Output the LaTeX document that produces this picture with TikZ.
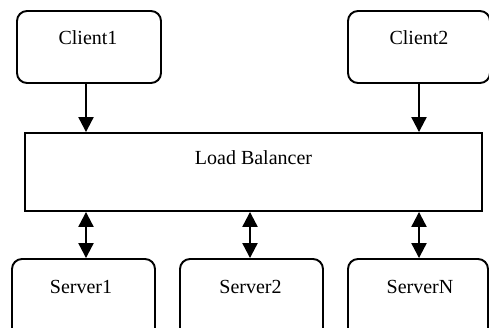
\documentclass[tikz,border=0pt]{standalone}
\usepackage{fontspec}
\setmainfont{Liberation Serif}
\usetikzlibrary{arrows.meta,calc}
\begin{document}
\begin{tikzpicture}[x=1pt,y=1pt,
  box/.style={draw, line width=1.9pt, rounded corners=10pt, inner sep=0pt},
  lbbox/.style={draw, line width=1.9pt, inner sep=0pt},
  txt/.style={anchor=base, font=\fontsize{20}{24}\selectfont, inner sep=0pt},
  conn/.style={line width=2.2pt, -{Triangle[length=15pt,width=15pt]}},
  biconn/.style={line width=2.2pt, {Triangle[length=15pt,width=15pt]}-{Triangle[length=15pt,width=15pt]}}]
\useasboundingbox (0,0) rectangle (489,-328);
\clip (0,0) rectangle (489,-328);
% boxes
\node[box, minimum width=144pt, minimum height=72pt] (c1) at (89,-47) {};
\node[box, minimum width=142pt, minimum height=72pt] (c2) at (419,-47) {};
\node[lbbox, minimum width=457pt, minimum height=78pt] (lb) at (253.5,-172) {};
\node[box, minimum width=143pt, minimum height=80pt] (s1) at (83.5,-299) {};
\node[box, minimum width=143pt, minimum height=80pt] (s2) at (251.5,-299) {};
\node[box, minimum width=140pt, minimum height=80pt] (sn) at (418,-299) {};
% texts
\node[txt] (t1) at (88,-45) {Client1};
\node[txt] (t2) at (419,-45) {Client2};
\node[txt] (tlb) at (253.5,-165) {Load Balancer};
\node[txt] (ts1) at (81,-293) {Server1};
\node[txt] (ts2) at (250.5,-293) {Server2};
\node[txt] (tsn) at (420,-293) {ServerN};
% x positions of connectors
\coordinate (xa) at (86,0);
\coordinate (xb) at (250,0);
\coordinate (xc) at (419,0);
% connectors
\draw[conn] (c1.south -| xa) -- (lb.north -| xa);
\draw[conn] (c2.south -| xc) -- (lb.north -| xc);
\draw[biconn] (lb.south -| xa) -- (s1.north -| xa);
\draw[biconn] (lb.south -| xb) -- (s2.north -| xb);
\draw[biconn] (lb.south -| xc) -- (sn.north -| xc);
\end{tikzpicture}
\end{document}
